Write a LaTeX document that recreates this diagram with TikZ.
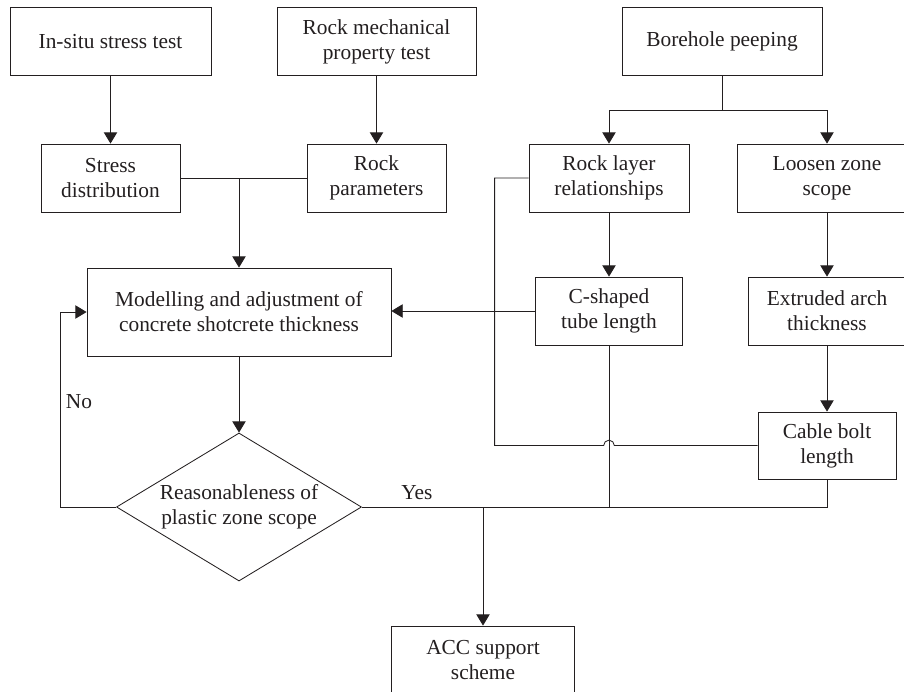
\documentclass[tikz,border=0pt]{standalone}
\usepackage{fontspec}
\setmainfont{Liberation Serif}
\usepackage{tikz}
\usetikzlibrary{shapes.geometric,positioning,arrows.meta,calc}
\definecolor{ink}{RGB}{35,31,32}
\newcommand{\fnt}{\fontsize{15.2pt}{17.7pt}\selectfont}
\tikzset{
  box/.style={draw=ink, text=ink, line width=0.6pt, align=center, inner sep=0pt, minimum height=68*0.025cm, font=\fnt},
  dec/.style={draw=ink, text=ink, line width=0.6pt, diamond, aspect=1.655, align=center, inner sep=0pt, minimum width=245*0.025cm, minimum height=148*0.025cm, font=\fnt},
  lbl/.style={text=ink, inner sep=0pt, font=\fnt},
  line/.style={draw=ink, line width=0.6pt},
  arr/.style={line, -{Triangle[length=8pt,width=9.5pt]}},
}

\begin{document}
\begin{tikzpicture}[x=0.025cm, y=-0.025cm]

\useasboundingbox (0,0) rectangle (904,692);

\node[box, minimum width=201*0.025cm] (insitu) at (110.5,41.5) {In-situ stress test};
\node[box, minimum width=199*0.025cm] (rockmech) at (376.5,41.5) {Rock mechanical\\property test};
\node[box, minimum width=200*0.025cm] (borehole) at (722,41.5) {Borehole peeping};

\node[box, minimum width=139*0.025cm] (stressdist) at (110.5,178) {Stress\\distribution};
\node[box, minimum width=139*0.025cm] (rockpar) at (376.5,178) {Rock\\parameters};
\node[box, minimum width=160*0.025cm] (rocklayer) at (609,178) {Rock layer\\relationships};
\node[box, minimum width=180*0.025cm] (loosen) at (827,178) {Loosen zone\\scope};

\node[box, minimum width=304*0.025cm, minimum height=88*0.025cm] (modelling) at (239,312) {Modelling and adjustment of\\concrete shotcrete thickness};
\node[box, minimum width=147*0.025cm] (cshaped) at (609,311) {C-shaped\\tube length};
\node[box, minimum width=158*0.025cm] (extruded) at (827,311) {Extruded arch\\thickness};

\node[box, minimum width=138*0.025cm, minimum height=67*0.025cm] (cable) at (827,445.5) {Cable bolt\\length};
\node[dec] (reason) at (239,507) {Reasonableness of\\plastic zone scope};
\node[box, minimum width=183*0.025cm] (acc) at (483,660) {ACC support\\scheme};

\node[lbl] (lblno) at (79,402) {No};
\node[lbl] (lblyes) at (417,493) {Yes};

\draw[arr] (insitu.south) -- (stressdist.north);
\draw[arr] (rockmech.south) -- (rockpar.north);
\draw[line] (stressdist.east) -- (rockpar.west);
\draw[arr] (stressdist.east -| modelling.north) -- (modelling.north);

\draw[arr] (borehole.south) -- ++(0,34) -| (rocklayer.north);
\draw[arr] (borehole.south) -- ++(0,34) -| (loosen.north);
\draw[arr] (rocklayer.south) -- (cshaped.north);
\draw[arr] (loosen.south) -- (extruded.north);
\draw[arr] (extruded.south) -- (cable.north);

\draw[arr] (cshaped.west) -- (cshaped.west -| modelling.east);
\draw[line] (rocklayer.west) -- ++(-34,0) |- ([xshift=-3.8pt]cshaped.south |- cable.west)
  arc[start angle=180, end angle=0, radius=3.8pt] -- (cable.west);

\draw[arr] (modelling.south) -- (reason.north);
\draw[arr] (reason.west) -- ++(-56,0) |- (modelling.west);

\draw[line] (reason.east) -- (cable.south |- reason.east) -- (cable.south);
\draw[line] (cshaped.south) -- (cshaped.south |- reason.east);
\draw[arr] (acc.north |- reason.east) -- (acc.north);

\end{tikzpicture}
\end{document}
